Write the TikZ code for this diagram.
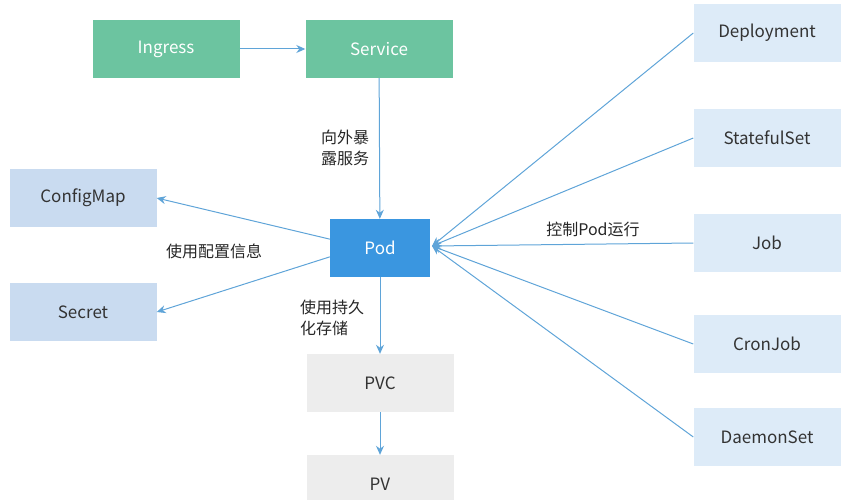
\documentclass[tikz,border=0pt]{standalone}
\usepackage{fontspec}
\setmainfont{Noto Sans CJK SC}
\usetikzlibrary{arrows.meta}
\definecolor{grn}{HTML}{6CC4A0}
\definecolor{blu}{HTML}{3A96E0}
\definecolor{lblu}{HTML}{C9DBF0}
\definecolor{lgray}{HTML}{EDEDED}
\definecolor{rblu}{HTML}{DDEBF8}
\definecolor{ln}{HTML}{5FA4D8}
\begin{document}
\begin{tikzpicture}[x=1pt,y=-1pt,
 box/.style={minimum width=147pt,minimum height=58pt,inner sep=0pt,font=\fontsize{17}{20}\selectfont},
 g/.style={box,fill=grn,text=white},
 lb/.style={box,fill=lblu,text=black!80},
 gr/.style={box,fill=lgray,text=black!80},
 rb/.style={box,fill=rblu,text=black!80},
 arr/.style={draw=ln,line width=1pt,-{Stealth[length=9pt,width=8pt]}},
 lab/.style={font=\fontsize{16}{21}\selectfont,align=left,text=black!85}]
\useasboundingbox (0,0) rectangle (848,500);
\node[g] (ing) at (166,49) {Ingress};
\node[g] (svc) at (379,49) {Service};
\node[box,fill=blu,text=white,minimum width=100pt] (pod) at (380,248) {Pod};
\node[lb] (cm) at (83,198) {ConfigMap};
\node[lb] (sec) at (83,312) {Secret};
\node[gr] (pvc) at (380,383) {PVC};
\node[gr] (pv) at (380,484) {PV};
\node[rb] (dep) at (767,33) {Deployment};
\node[rb] (sts) at (767,138) {StatefulSet};
\node[rb] (job) at (767,243) {Job};
\node[rb] (cj) at (767,344) {CronJob};
\node[rb] (ds) at (767,437) {DaemonSet};
\draw[arr] (ing) -- (svc);
\draw[arr] (svc) -- (pod);
\draw[arr] (pod.170) -- (cm.east);
\draw[arr] (pod.190) -- (sec.east);
\draw[arr] (pod) -- (pvc);
\draw[arr] (pvc) -- (pv);
\coordinate (pr) at (432,246);
\foreach \n in {dep,sts,job,cj,ds} \draw[arr] (\n.west) -- (pr);
\node[lab] (l1) at (345,148) {向外暴\\露服务};
\node[lab] (l2) at (214,251) {使用配置信息};
\node[lab] (l3) at (332,318) {使用持久\\化存储};
\node[lab] (l4) at (593,229) {控制Pod运行};
\end{tikzpicture}
\end{document}
